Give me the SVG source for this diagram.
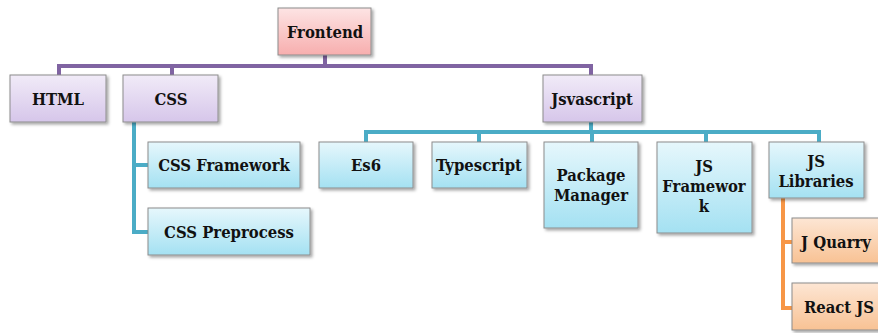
<svg xmlns="http://www.w3.org/2000/svg" width="878" height="333" viewBox="0 0 878 333">
<style>
.box{stroke:#8c8c8c;stroke-width:1;filter:url(#sh)}
.pink{fill:url(#gPink)}
.purple{fill:url(#gPurple)}
.blue{fill:url(#gBlue)}
.orange{fill:url(#gOrange)}
text{font-family:'DejaVu Serif',serif;font-stretch:condensed;font-weight:700;font-size:16.5px;fill:#111;text-anchor:middle;dominant-baseline:central}
.c{fill:none;stroke-width:4;stroke-linejoin:miter}
.cp{stroke:#8064a2}
.cb{stroke:#4bacc6}
.co{stroke:#f79646}
</style>
<defs>
<filter id="sh" x="-10%" y="-10%" width="125%" height="130%">
<feDropShadow dx="2" dy="2" stdDeviation="1.5" flood-color="#000" flood-opacity="0.35"/>
</filter>
<linearGradient id="gPink" x1="0" y1="0" x2="0" y2="1"><stop offset="0" stop-color="#fde4e4"/><stop offset="1" stop-color="#f7aeae"/></linearGradient>
<linearGradient id="gPurple" x1="0" y1="0" x2="0" y2="1"><stop offset="0" stop-color="#f1ebf8"/><stop offset="1" stop-color="#d6c6ea"/></linearGradient>
<linearGradient id="gBlue" x1="0" y1="0" x2="0" y2="1"><stop offset="0" stop-color="#e6f7fc"/><stop offset="1" stop-color="#a4e1f2"/></linearGradient>
<linearGradient id="gOrange" x1="0" y1="0" x2="0" y2="1"><stop offset="0" stop-color="#fde6d4"/><stop offset="1" stop-color="#f8c294"/></linearGradient>
</defs>
<g id="connectors">
<path class="c cp" d="M325,55 V66"/>
<path class="c cp" d="M59,75 V66 H591 V75"/>
<path class="c cp" d="M172,66 V75"/>
<path class="c cb" d="M134,122 V232 H148"/>
<path class="c cb" d="M134,165 H148"/>
<path class="c cb" d="M591,122 V132"/>
<path class="c cb" d="M366,142 V132 H819 V142"/>
<path class="c cb" d="M479,132 V142"/>
<path class="c cb" d="M592,132 V142"/>
<path class="c cb" d="M706,132 V142"/>
<path class="c co" d="M783,198 V308 H792"/>
<path class="c co" d="M783,242 H792"/>
</g>
<g id="frontend"><rect class="box pink" x="278" y="8" width="93" height="47"/><text x="325" y="32">Frontend</text></g>
<g id="html"><rect class="box purple" x="10" y="75" width="96" height="47"/><text x="58" y="99">HTML</text></g>
<g id="css"><rect class="box purple" x="123" y="75" width="95" height="47"/><text x="171" y="99">CSS</text></g>
<g id="jsvascript"><rect class="box purple" x="543" y="75" width="99" height="47"/><text x="592" y="99">Jsvascript</text></g>
<g id="css-framework"><rect class="box blue" x="148" y="142" width="152" height="46"/><text x="224" y="165">CSS Framework</text></g>
<g id="css-preprocess"><rect class="box blue" x="148" y="208" width="162" height="47"/><text x="229" y="232">CSS Preprocess</text></g>
<g id="es6"><rect class="box blue" x="319" y="142" width="94" height="46"/><text x="366" y="165">Es6</text></g>
<g id="typescript"><rect class="box blue" x="432" y="142" width="95" height="46"/><text x="479" y="165">Typescript</text></g>
<g id="package-manager"><rect class="box blue" x="544" y="142" width="94" height="86"/><text x="591" y="175">Package</text><text x="591" y="195">Manager</text></g>
<g id="js-framework"><rect class="box blue" x="657" y="142" width="95" height="91"/><text x="704" y="166">JS</text><text x="704" y="186">Framewor</text><text x="704" y="206">k</text></g>
<g id="js-libraries"><rect class="box blue" x="769" y="142" width="95" height="56"/><text x="816" y="161">JS</text><text x="816" y="181">Libraries</text></g>
<g id="j-quarry"><rect class="box orange" x="792" y="218" width="95" height="45"/><text x="836" y="242">J Quarry</text></g>
<g id="react-js"><rect class="box orange" x="792" y="283" width="95" height="47"/><text x="839" y="307">React JS</text></g>
</svg>
